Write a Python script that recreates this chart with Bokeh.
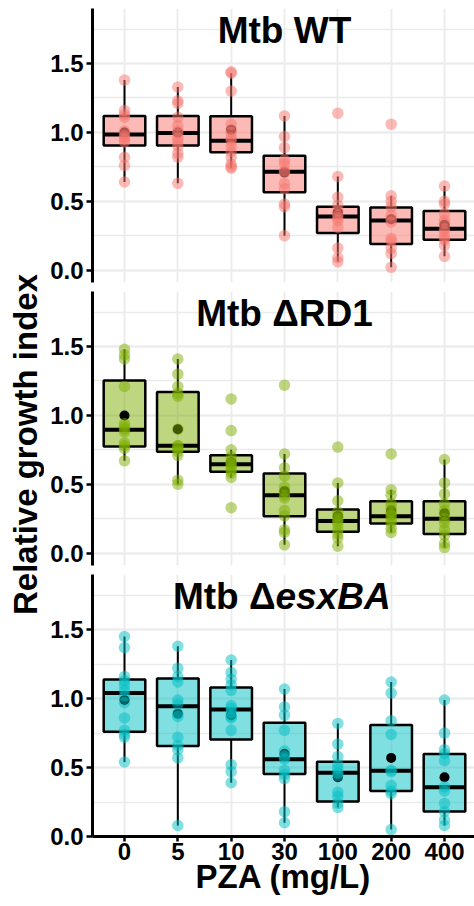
import numpy as np
from bokeh.plotting import figure
from bokeh.layouts import row, column
from bokeh.models import (Label, Range1d, FixedTicker, SingleIntervalTicker,
                          PrintfTickFormatter, ColumnDataSource)
from bokeh.embed import file_html
from bokeh.resources import INLINE

# ---------------- data ----------------
doses = ["0", "5", "10", "30", "100", "200", "400"]

wt_points = [
    [1.38, 1.16, 1.13, 1.11, 1.01, 0.99, 0.97, 0.95, 0.93, 0.82, 0.76, 0.64],
    [1.33, 1.23, 1.21, 1.11, 1.05, 1.01, 0.99, 0.96, 0.93, 0.90, 0.85, 0.82, 0.63],
    [1.44, 1.43, 1.30, 1.06, 1.02, 1.00, 0.96, 0.94, 0.90, 0.86, 0.82, 0.77, 0.75, 0.74],
    [1.12, 0.97, 0.89, 0.80, 0.77, 0.72, 0.71, 0.63, 0.59, 0.48, 0.46, 0.25],
    [1.14, 0.68, 0.53, 0.47, 0.43, 0.40, 0.38, 0.36, 0.31, 0.16, 0.09, 0.06],
    [1.06, 0.54, 0.50, 0.46, 0.40, 0.37, 0.35, 0.23, 0.21, 0.16, 0.12, 0.02],
    [0.61, 0.50, 0.48, 0.41, 0.36, 0.34, 0.30, 0.28, 0.24, 0.22, 0.18, 0.10],
]
wt_q1 = [0.905, 0.905, 0.856, 0.565, 0.27, 0.19, 0.22]
wt_med = [0.985, 0.995, 0.94, 0.715, 0.39, 0.36, 0.30]
wt_q3 = [1.12, 1.12, 1.117, 0.83, 0.46, 0.455, 0.43]
wt_lo = [0.64, 0.63, 0.74, 0.25, 0.06, 0.02, 0.10]
wt_hi = [1.38, 1.33, 1.43, 1.12, 0.68, 0.54, 0.61]
wt_mean = [1.00, 1.00, 1.02, 0.71, 0.42, 0.37, 0.33]

rd1_points = [
    [1.48, 1.44, 1.41, 1.21, 0.94, 0.92, 0.90, 0.88, 0.80, 0.78, 0.76, 0.67],
    [1.41, 1.30, 1.21, 1.16, 1.14, 0.90, 0.78, 0.78, 0.76, 0.74, 0.71, 0.53, 0.50],
    [1.12, 0.89, 0.75, 0.70, 0.67, 0.65, 0.64, 0.62, 0.60, 0.58, 0.55, 0.33],
    [1.22, 0.72, 0.62, 0.56, 0.48, 0.45, 0.42, 0.40, 0.31, 0.27, 0.17, 0.15, 0.06],
    [0.77, 0.51, 0.38, 0.30, 0.27, 0.25, 0.23, 0.21, 0.17, 0.14, 0.11, 0.05],
    [0.72, 0.46, 0.42, 0.36, 0.33, 0.30, 0.28, 0.27, 0.24, 0.22, 0.18, 0.15],
    [0.68, 0.51, 0.43, 0.36, 0.31, 0.28, 0.25, 0.22, 0.17, 0.13, 0.07, 0.04],
]
rd1_q1 = [0.775, 0.737, 0.59, 0.268, 0.155, 0.215, 0.138]
rd1_med = [0.896, 0.78, 0.645, 0.42, 0.234, 0.268, 0.249]
rd1_q3 = [1.254, 1.17, 0.71, 0.578, 0.317, 0.377, 0.377]
rd1_lo = [0.67, 0.50, 0.55, 0.06, 0.05, 0.15, 0.04]
rd1_hi = [1.48, 1.41, 0.75, 0.72, 0.51, 0.46, 0.68]
rd1_mean = [1.00, 0.90, 0.66, 0.45, 0.27, 0.31, 0.29]

esx_points = [
    [1.45, 1.37, 1.16, 1.13, 1.10, 1.06, 1.02, 0.97, 0.86, 0.77, 0.74, 0.72, 0.54],
    [1.38, 1.22, 1.16, 1.12, 0.99, 0.96, 0.89, 0.87, 0.72, 0.66, 0.63, 0.57, 0.08],
    [1.28, 1.19, 1.14, 1.10, 1.06, 0.95, 0.93, 0.90, 0.87, 0.86, 0.77, 0.52, 0.47, 0.39],
    [1.07, 0.94, 0.88, 0.77, 0.62, 0.58, 0.56, 0.48, 0.45, 0.42, 0.18, 0.10],
    [0.82, 0.67, 0.58, 0.52, 0.49, 0.46, 0.44, 0.32, 0.29, 0.24, 0.21],
    [1.12, 1.04, 0.84, 0.74, 0.48, 0.47, 0.37, 0.33, 0.31, 0.05],
    [0.99, 0.75, 0.63, 0.60, 0.55, 0.36, 0.33, 0.24, 0.18, 0.12, 0.08],
]
esx_q1 = [0.76, 0.656, 0.704, 0.453, 0.253, 0.33, 0.181]
esx_med = [1.04, 0.945, 0.921, 0.56, 0.463, 0.477, 0.357]
esx_q3 = [1.138, 1.145, 1.08, 0.824, 0.542, 0.808, 0.598]
esx_lo = [0.54, 0.08, 0.39, 0.10, 0.21, 0.05, 0.08]
esx_hi = [1.45, 1.38, 1.28, 1.07, 0.82, 1.12, 0.99]
esx_mean = [0.99, 0.89, 0.88, 0.60, 0.43, 0.57, 0.43]

colors = ["#F8766D", "#7CAE00", "#00BFC4"]

# ---------------- style ----------------
FONT = "Liberation Sans"
GRID = "#EBEBEB"
BOX_HALF = 0.39
Y_START, Y_END = -0.09, 1.9
X_START, X_END = -0.6, 6.5625
N = len(doses)
PANEL_W = 430
LEFT_B = 48


def make_panel(points, q1, med, q3, lo, hi, mean, color, height, top, bottom,
               with_x_axis, y_start):
    p = figure(width=PANEL_W, height=height, title=None,
               x_range=Range1d(X_START, X_END), y_range=Range1d(y_start, Y_END),
               output_backend="svg", toolbar_location=None,
               min_border_left=LEFT_B, min_border_right=0,
               min_border_top=top, min_border_bottom=bottom)
    p.outline_line_color = None
    p.background_fill_color = "white"
    p.border_fill_color = "white"

    xt = FixedTicker(ticks=list(range(N)))
    p.xaxis.ticker = xt
    p.xgrid.ticker = xt
    p.xgrid.grid_line_color = GRID
    p.xgrid.grid_line_width = 1.8
    yt = SingleIntervalTicker(interval=0.5, num_minor_ticks=2)
    p.yaxis.ticker = yt
    p.ygrid.ticker = yt
    p.ygrid.grid_line_color = GRID
    p.ygrid.grid_line_width = 1.8
    p.ygrid.minor_grid_line_color = GRID
    p.ygrid.minor_grid_line_width = 1.3

    ya = p.yaxis[0]
    ya.formatter = PrintfTickFormatter(format="%.1f")
    ya.axis_line_width = 3
    ya.axis_line_color = "black"
    ya.major_tick_line_width = 2.5
    ya.major_tick_line_color = "black"
    ya.major_tick_out = 6
    ya.major_tick_in = 0
    ya.minor_tick_line_color = None
    ya.major_label_standoff = 3
    ya.major_label_text_font = FONT
    ya.major_label_text_font_style = "bold"
    ya.major_label_text_font_size = "24px"
    ya.major_label_text_color = "black"

    xa = p.xaxis[0]
    if with_x_axis:
        xa.major_label_overrides = {i: d for i, d in enumerate(doses)}
        xa.axis_line_width = 3
        xa.axis_line_color = "black"
        xa.major_tick_line_width = 2.5
        xa.major_tick_line_color = "black"
        xa.major_tick_out = 5
        xa.major_tick_in = 0
        xa.minor_tick_line_color = None
        xa.major_label_standoff = 1
        xa.major_label_text_font = FONT
        xa.major_label_text_font_style = "bold"
        xa.major_label_text_font_size = "24px"
        xa.major_label_text_color = "black"
        xa.axis_label = "PZA (mg/L)"
        xa.axis_label_standoff = -5
        xa.axis_label_text_font = FONT
        xa.axis_label_text_font_style = "bold"
        xa.axis_label_text_font_size = "33px"
        xa.axis_label_text_color = "black"
    else:
        xa.visible = False

    x = np.arange(N, dtype=float)
    box = ColumnDataSource(dict(x=x, left=x - BOX_HALF, right=x + BOX_HALF,
                                q1=q1, med=med, q3=q3, lo=lo, hi=hi, mean=mean))
    p.segment(x0="x", y0="lo", x1="x", y1="q1", source=box, line_color="black", line_width=2)
    p.segment(x0="x", y0="q3", x1="x", y1="hi", source=box, line_color="black", line_width=2)
    p.quad(left="left", right="right", bottom="q1", top="q3", source=box,
           fill_color=color, fill_alpha=0.5, line_color="black", line_width=2.5)
    p.segment(x0="left", y0="med", x1="right", y1="med", source=box,
              line_color="black", line_width=4)
    p.scatter(x="x", y="mean", source=box, size=10, fill_color="black", line_color=None)

    px, py = [], []
    for i, vals in enumerate(points):
        px += [float(i)] * len(vals)
        py += list(vals)
    p.scatter(px, py, size=11.5, fill_color=color, fill_alpha=0.5, line_color=None)
    return p


p1 = make_panel(wt_points, wt_q1, wt_med, wt_q3, wt_lo, wt_hi, wt_mean, colors[0],
                height=287, top=8, bottom=5, with_x_axis=False, y_start=Y_START)
p2 = make_panel(rd1_points, rd1_q1, rd1_med, rd1_q3, rd1_lo, rd1_hi, rd1_mean, colors[1],
                height=283, top=4, bottom=5, with_x_axis=False, y_start=Y_START)
p3 = make_panel(esx_points, esx_q1, esx_med, esx_q3, esx_lo, esx_hi, esx_mean, colors[2],
                height=336, top=4, bottom=70, with_x_axis=True, y_start=0.0)

TITLE_SIZE = "37px"
def title(p, text, align="center", x_offset=0, style="bold"):
    p.add_layout(Label(x=3, y=1.75, y_offset=-1, x_offset=x_offset, text=text,
                       text_align=align, text_baseline="alphabetic",
                       text_font=FONT, text_font_style=style,
                       text_font_size=TITLE_SIZE, text_color="black"))

title(p1, "Mtb WT")
title(p2, "Mtb \u0394RD1")
title(p3, "Mtb \u0394", align="right", x_offset=-9)
title(p3, "esxBA", align="left", x_offset=-9, style="bold italic")

# y-axis title in its own narrow figure
pl = figure(width=44, height=906, x_range=Range1d(0, 44), y_range=Range1d(0, 906),
            output_backend="svg", toolbar_location=None,
            x_axis_location=None, y_axis_location=None, title=None,
            min_border=0)
pl.outline_line_color = None
pl.grid.visible = False
pl.add_layout(Label(x=25, y=462, text="Relative growth index", angle=90, angle_units="deg",
                    text_align="center", text_baseline="alphabetic",
                    text_font=FONT, text_font_style="bold",
                    text_font_size="33px", text_color="black"))

layout = row(pl, column(p1, p2, p3, spacing=0), spacing=0)
open("out.html", "w").write(file_html(layout, INLINE))
